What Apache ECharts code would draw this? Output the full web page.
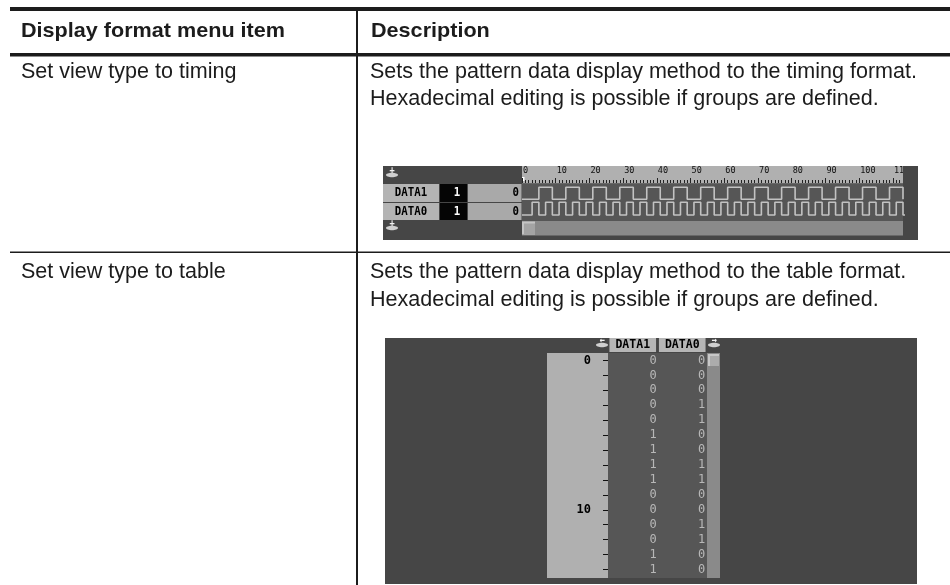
<!DOCTYPE html>
<html><head><meta charset="utf-8">
<script src="https://cdn.jsdelivr.net/npm/echarts@6/dist/echarts.min.js"></script>
<style>html,body{margin:0;padding:0;background:#fff}#c{width:950px;height:585px}</style>
</head><body><div id="c"></div>
<script>
// ---- text content ----
const headerTexts = ['Display format menu item', 'Description'];
const rowItems = ['Set view type to timing', 'Set view type to table'];
const rowDescriptions = [
  ['Sets the pattern data display method to the timing format.', 'Hexadecimal editing is possible if groups are defined.'],
  ['Sets the pattern data display method to the table format.', 'Hexadecimal editing is possible if groups are defined.']
];
const signalNames = ['DATA1', 'DATA0'];
const cursorValues = ['1', '1'];
const cursorAddress = ['0', '0'];
const rulerMax = 113;
const rulerInterval = 10;

// ---- timing view pattern data (address 0..113) ----
const timingData1 = [0,
  0,0,0,0,1,1,1,1, 0,0,0,0,1,1,1,1, 0,0,0,0,1,1,1,1, 0,0,0,0,1,1,1,1,
  0,0,0,0,1,1,1,1, 0,0,0,0,1,1,1,1, 0,0,0,0,1,1,1,1, 0,0,0,0,1,1,1,1,
  0,0,0,0,1,1,1,1, 0,0,0,0,1,1,1,1, 0,0,0,0,1,1,1,1, 0,0,0,0,1,1,1,1,
  0,0,0,0,1,1,1,1, 0,0,0,0,1,1,1,1,
  0];
const timingData0 = [0,
  0,0,1,1, 0,0,1,1, 0,0,1,1, 0,0,1,1, 0,0,1,1, 0,0,1,1, 0,0,1,1, 0,0,1,1,
  0,0,1,1, 0,0,1,1, 0,0,1,1, 0,0,1,1, 0,0,1,1, 0,0,1,1, 0,0,1,1, 0,0,1,1,
  0,0,1,1, 0,0,1,1, 0,0,1,1, 0,0,1,1, 0,0,1,1, 0,0,1,1, 0,0,1,1, 0,0,1,1,
  0,0,1,1, 0,0,1,1, 0,0,1,1, 0,0,1,1, 0,0,1,1, 0,0,1,1, 0,0,1,1, 0,0,1,1,
  0,0,1,1, 0,0,1,1, 0,0,1,1, 0,0,1,1, 0,0,1,1, 0,0,1,1, 0,0,1,1, 0,0,1,1,
  0,0,1,1, 0,0,1,1, 0,0,1,1, 0,0,1,1, 0,0,1,1, 0,0,1,1, 0,0,1,1, 0,0,1,1,
  0,0,1,1, 0,0,1,1, 0,0,1,1, 0,0,1,1, 0,0,1,1, 0,0,1,1, 0,0,1,1, 0,0,1,1,
  0];

// ---- table view data ----
const tableAddresses = ['0','1','2','3','4','5','6','7','8','9','10','11','12','13','14'];
const tableData1 = [0,0,0,0,0,1,1,1,1,0,0,0,0,1,1];
const tableData0 = [0,0,0,1,1,0,0,1,1,0,0,1,1,0,0];

// ---- layout helpers ----
function measure(text, font) {
  const c = document.createElement('canvas').getContext('2d');
  c.font = font; return c.measureText(text).width;
}
const FAM = '"Liberation Sans", Arial, sans-serif';
const MONO = '"DejaVu Sans Mono", monospace';
const REG_SIZE = 21.5, BOLD_SIZE = 21;
const regScale = 547 / measure(rowDescriptions[0][0], REG_SIZE + 'px ' + FAM);
const boldScale = 264 / measure(headerTexts[0], 'bold ' + BOLD_SIZE + 'px ' + FAM);
const INK = '#1c1c1c';

function docText(t, x, y, bold) {
  return { type: 'text', x: x, y: y, z: 20, scaleX: bold ? boldScale : regScale, silent: true,
    style: { text: t, fill: INK, fontFamily: FAM, fontSize: bold ? BOLD_SIZE : REG_SIZE, fontWeight: bold ? 'bold' : 'normal',
      align: 'left', verticalAlign: 'middle', textAlign: 'left', textVerticalAlign: 'middle' } };
}
function rect(x, y, w, h, fill, z) {
  return { type: 'rect', z: z == null ? 0 : z, silent: true, shape: { x: x, y: y, width: w, height: h }, style: { fill: fill } };
}
function monoText(t, x, y, fill, align, size, weight) {
  return { type: 'text', x: x, y: y, z: 20, silent: true, scaleX: 0.86,
    style: { text: t, fill: fill, fontFamily: MONO, fontSize: size || 12.5, fontWeight: weight || 'bold',
      align: align || 'center', verticalAlign: 'middle', textAlign: align || 'center', textVerticalAlign: 'middle' } };
}
function icon(cx, cy, glyph) {
  return [
    { type: 'ellipse', z: 1, silent: true, shape: { cx: cx, cy: cy + 3, rx: 6, ry: 2.2 }, style: { fill: '#d0d0d0' } },
    monoText(glyph, cx, cy - 2, '#f0f0f0', 'center', 10, 'bold')
  ];
}

const graphics = [];
// document table frame
graphics.push(rect(10, 7, 940, 4, INK, 10));
graphics.push(rect(10, 53, 940, 3.5, INK, 10));
graphics.push(rect(10, 251.5, 940, 1.5, INK, 10));
graphics.push(rect(356, 9, 2, 576, INK, 10));
graphics.push(docText(headerTexts[0], 21, 31, true));
graphics.push(docText(headerTexts[1], 371, 31, true));
graphics.push(docText(rowItems[0], 21, 72.5, false));
graphics.push(docText(rowDescriptions[0][0], 370, 72.5, false));
graphics.push(docText(rowDescriptions[0][1], 370, 99.5, false));
graphics.push(docText(rowItems[1], 21, 272.5, false));
graphics.push(docText(rowDescriptions[1][0], 370, 272.5, false));
graphics.push(docText(rowDescriptions[1][1], 370, 300, false));

// timing screenshot
graphics.push(rect(383, 166, 535, 74, '#464646'));
graphics.push(rect(522, 166, 381, 17.5, '#b0b0b0'));
graphics.push(rect(522, 183.5, 381, 37.5, '#565656'));
graphics.push(rect(522, 221, 381, 14.5, '#8a8a8a'));
graphics.push(rect(522, 221.5, 13, 13, '#c4c4c4', 1));
graphics.push(rect(524, 223.5, 11, 11, '#a4a4a4', 2));
graphics.push(rect(522, 177, 2.5, 4, '#ffffff', 1));
graphics.push(rect(903, 166, 15, 18, '#464646', 15));
const rowTops = [184, 203], rowHs = [18, 17];
for (let k = 0; k < 2; k++) {
  graphics.push(rect(383, rowTops[k], 56, rowHs[k], '#b4b4b4'));
  graphics.push(rect(440, rowTops[k], 27, rowHs[k], '#050505'));
  graphics.push(rect(468, rowTops[k], 53.5, rowHs[k], '#a9a9a9'));
  graphics.push(monoText(signalNames[k], 411, rowTops[k] + rowHs[k] / 2, '#000'));
  graphics.push(monoText(cursorValues[k], 457, rowTops[k] + rowHs[k] / 2, '#fff'));
  graphics.push(monoText(cursorAddress[k], 519, rowTops[k] + rowHs[k] / 2, '#000', 'right'));
}
graphics.push(...icon(392, 172, '+'));
graphics.push(...icon(392, 225, '+'));

// table screenshot
graphics.push(rect(385, 338, 532, 246, '#464646'));
graphics.push(rect(547, 353, 61, 225, '#b0b0b0'));
graphics.push(rect(608, 353, 99, 225, '#565656'));
graphics.push(rect(707, 353, 13, 225, '#8a8a8a'));
graphics.push(rect(708, 354, 11, 12, '#c8c8c8', 1));
graphics.push(rect(710, 356, 9, 10, '#acacac', 2));
graphics.push(...icon(602, 342, '\u2190'));
graphics.push(...icon(714, 342, '\u2192'));

const option = {
  animation: false,
  backgroundColor: '#ffffff',
  graphic: { elements: graphics },
  grid: [
    { left: 522, top: 166, width: 381, height: 17 },
    { left: 522, top: 187.3, width: 381, height: 12 },
    { left: 522, top: 202.3, width: 381, height: 12.7 },
    { left: 608, top: 353, width: 99, height: 224 }
  ],
  xAxis: [
    { gridIndex: 0, type: 'value', min: 0, max: rulerMax, interval: rulerInterval, z: 5,
      axisLine: { show: false }, splitLine: { show: false },
      axisTick: { show: true, inside: true, length: 5, lineStyle: { color: '#222', width: 1 } },
      minorTick: { show: true, splitNumber: 10, length: 3, lineStyle: { color: '#222', width: 1 } },
      axisLabel: { inside: true, margin: 8, align: 'left', padding: [0, 0, 0, 1], showMaxLabel: false,
        color: '#111', fontFamily: MONO, fontSize: 8.5,
        formatter: v => (v % rulerInterval === 0 ? String(v) : '') } },
    { gridIndex: 1, type: 'value', min: 0, max: rulerMax, show: false },
    { gridIndex: 2, type: 'value', min: 0, max: rulerMax, show: false },
    { gridIndex: 3, type: 'category', data: signalNames, position: 'top', z: 5,
      axisLine: { show: false }, axisTick: { show: false }, splitLine: { show: false },
      axisLabel: { margin: 1, color: '#000', fontFamily: MONO, fontWeight: 'bold', fontSize: 11.5,
        backgroundColor: '#b6b6b6', padding: [2, 6, 1, 6], lineHeight: 11 } }
  ],
  yAxis: [
    { gridIndex: 0, type: 'value', show: false },
    { gridIndex: 1, type: 'value', min: 0, max: 1, show: false },
    { gridIndex: 2, type: 'value', min: 0, max: 1, show: false },
    { gridIndex: 3, type: 'category', data: tableAddresses, inverse: true, z: 5,
      axisLine: { show: false }, splitLine: { show: false },
      axisTick: { show: true, alignWithLabel: true, interval: 0, length: 5, lineStyle: { color: '#111', width: 1 } },
      axisLabel: { interval: i => i % 10 === 0, margin: 17, color: '#000', fontFamily: MONO, fontWeight: 'bold', fontSize: 12 } }
  ],
  series: [
    { name: signalNames[0], type: 'line', xAxisIndex: 1, yAxisIndex: 1, step: 'end', clip: false, z: 6,
      showSymbol: false, symbol: 'none', lineStyle: { color: '#c2c2c2', width: 1.6 },
      data: timingData1.map((v, i) => [i, v]) },
    { name: signalNames[1], type: 'line', xAxisIndex: 2, yAxisIndex: 2, step: 'end', clip: false, z: 6,
      showSymbol: false, symbol: 'none', lineStyle: { color: '#c2c2c2', width: 1.6 },
      data: timingData0.map((v, i) => [i, v]) },
    { name: signalNames[0] + ' table', type: 'scatter', xAxisIndex: 3, yAxisIndex: 3, z: 6,
      symbolSize: 1, itemStyle: { color: 'rgba(0,0,0,0)' },
      label: { show: true, position: 'inside', align: 'right', offset: [24, 0], formatter: p => String(p.value[2]),
        color: '#cfcfcf', fontFamily: MONO, fontSize: 12 },
      data: tableData1.map((v, i) => [0, i, v]) },
    { name: signalNames[1] + ' table', type: 'scatter', xAxisIndex: 3, yAxisIndex: 3, z: 6,
      symbolSize: 1, itemStyle: { color: 'rgba(0,0,0,0)' },
      label: { show: true, position: 'inside', align: 'right', offset: [23, 0], formatter: p => String(p.value[2]),
        color: '#cfcfcf', fontFamily: MONO, fontSize: 12 },
      data: tableData0.map((v, i) => [1, i, v]) }
  ]
};
const chart = echarts.init(document.getElementById('c'), null, { renderer: 'canvas' });
chart.setOption(option);
</script>
</body></html>
